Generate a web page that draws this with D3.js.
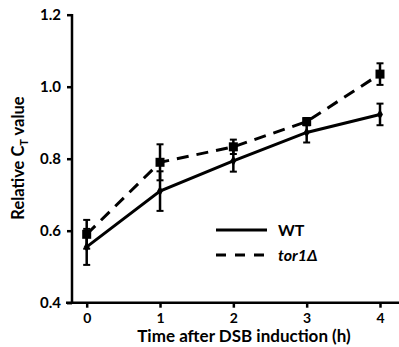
<!DOCTYPE html>
<html>
<head>
<meta charset="utf-8">
<script src="https://cdn.jsdelivr.net/npm/d3@7"></script>
<style>
  body { margin: 0; background: #fff; }
  text { font-family: Lato, "Open Sans", sans-serif; font-weight: bold; fill: #000; }
</style>
</head>
<body>
<div id="chart"></div>
<script>
let times = [0, 1, 2, 3, 4]
let wtValues = [0.555, 0.71, 0.794, 0.873, 0.923]
let wtErrors = [0.05, 0.055, 0.03, 0.028, 0.03]
let torValues = [0.59, 0.79, 0.833, 0.903, 1.035]
let torErrors = [0.04, 0.05, 0.02, 0.01, 0.03]
let yTicks = [0.4, 0.6, 0.8, 1.0, 1.2]
let xTicks = [0, 1, 2, 3, 4]

let width = 399, height = 347

let svg = d3.select('#chart')
    .append('svg')
    .attr('width', width)
    .attr('height', height)

let xScale = d3.scaleLinear()
    .domain([0, 4])
    .range([86.7, 380])

let yScale = d3.scaleLinear()
    .domain([0.4, 1.2])
    .range([302.7, 14.7])

// axes: keep d3 ticks, swap the domain path for plain lines
let xAxis = svg.append('g')
    .attr('transform', 'translate(0,302.7)')
    .call(d3.axisBottom(xScale).tickValues(xTicks).tickFormat(d3.format('d')).tickSize(5).tickPadding(5))
xAxis.select('.domain').remove()
xAxis.append('line')
    .attr('x1', 66).attr('x2', 399)
    .attr('stroke', '#000').attr('stroke-width', 2.5)
xAxis.selectAll('.tick line').attr('stroke-width', 2.5)
xAxis.selectAll('.tick text').style('font-size', '14px').attr('fill', '#000')

let yAxis = svg.append('g')
    .attr('transform', 'translate(72,0)')
    .call(d3.axisLeft(yScale).tickValues(yTicks).tickFormat(d3.format('.1f')).tickSize(5).tickPadding(6))
yAxis.select('.domain').remove()
yAxis.append('line')
    .attr('y1', 14).attr('y2', 304)
    .attr('stroke', '#000').attr('stroke-width', 2.5)
yAxis.selectAll('.tick line').attr('stroke-width', 2.5)
yAxis.selectAll('.tick text').style('font-size', '15px').attr('fill', '#000')

// axis titles
svg.append('text')
    .attr('x', 244)
    .attr('y', 341.5)
    .attr('text-anchor', 'middle')
    .style('font-size', '17px')
    .text('Time after DSB induction (h)')

let yTitle = svg.append('text')
    .attr('transform', 'translate(24,158) rotate(-90)')
    .attr('text-anchor', 'middle')
    .style('font-size', '16.5px')
yTitle.append('tspan').text('Relative C')
yTitle.append('tspan').attr('dy', 4).style('font-size', '11px').text('T')
yTitle.append('tspan').attr('dy', -4).text(' value')

function drawSeries(values, errors, dashed, square) {
    let pts = times.map((t, i) => ({ t: t, v: values[i], e: errors[i] }))
    let line = d3.line()
        .x(d => xScale(d.t))
        .y(d => yScale(d.v))

    svg.append('path')
        .datum(pts)
        .attr('d', line)
        .attr('fill', 'none')
        .attr('stroke', '#000')
        .attr('stroke-width', 3)
        .attr('stroke-dasharray', dashed ? '12,8' : null)

    let g = svg.append('g')
    g.selectAll('line.err')
        .data(pts)
        .enter()
        .append('line')
        .attr('x1', d => xScale(d.t))
        .attr('x2', d => xScale(d.t))
        .attr('y1', d => yScale(d.v - d.e))
        .attr('y2', d => yScale(d.v + d.e))
        .attr('stroke', '#000')
        .attr('stroke-width', 2.5)
    ;[-1, 1].forEach(s => {
        g.selectAll(null)
            .data(pts)
            .enter()
            .append('line')
            .attr('x1', d => xScale(d.t) - 3.5)
            .attr('x2', d => xScale(d.t) + 3.5)
            .attr('y1', d => yScale(d.v + s * d.e))
            .attr('y2', d => yScale(d.v + s * d.e))
            .attr('stroke', '#000')
            .attr('stroke-width', 2)
    })

    if (square) {
        g.selectAll('rect')
            .data(pts)
            .enter()
            .append('rect')
            .attr('x', d => xScale(d.t) - 4.5)
            .attr('y', d => yScale(d.v) - 4.5)
            .attr('width', 9)
            .attr('height', 9)
            .attr('fill', '#000')
    } else {
        g.selectAll('path.mk')
            .data(pts)
            .enter()
            .append('path')
            .attr('d', d3.symbol().type(d3.symbolDiamond).size(30))
            .attr('transform', d => 'translate(' + xScale(d.t) + ',' + yScale(d.v) + ')')
            .attr('fill', '#000')
    }
}

drawSeries(wtValues, wtErrors, false, false)
drawSeries(torValues, torErrors, true, true)

// legend
let legend = svg.append('g')
legend.append('line')
    .attr('x1', 216).attr('x2', 267)
    .attr('y1', 230).attr('y2', 230)
    .attr('stroke', '#000').attr('stroke-width', 3)
legend.append('text')
    .attr('x', 278).attr('y', 236)
    .style('font-size', '16px')
    .text('WT')
legend.append('line')
    .attr('x1', 216).attr('x2', 267)
    .attr('y1', 255).attr('y2', 255)
    .attr('stroke', '#000').attr('stroke-width', 3)
    .attr('stroke-dasharray', '10,9')
legend.append('text')
    .attr('x', 278).attr('y', 261)
    .style('font-size', '16px')
    .style('font-style', 'italic')
    .text('tor1\u0394')
</script>
</body>
</html>
